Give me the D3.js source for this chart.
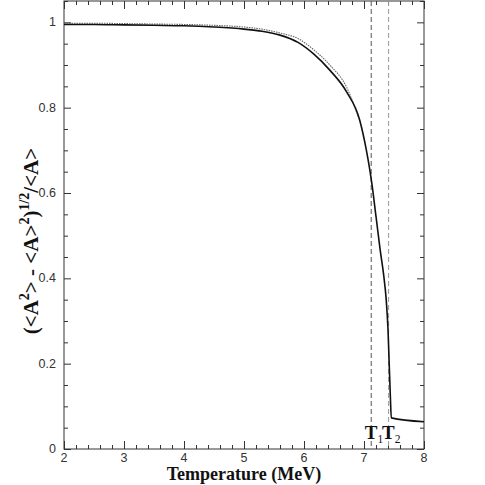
<!DOCTYPE html>
<html>
<head>
<meta charset="utf-8">
<script src="https://cdn.jsdelivr.net/npm/d3@7"></script>
<style>
  body { margin: 0; background: #fff; }
  .tickLabel { font-family: "Liberation Sans", Arial, sans-serif; font-size: 12.5px; fill: #333; }
  .axisLabel { font-family: "Liberation Serif", "Times New Roman", serif; font-weight: bold; font-size: 19px; fill: #111; }
</style>
</head>
<body>
<svg id="svgchart"></svg>
<script>
'use strict'

// solid curve
const solidT = [2, 2.5, 3, 3.5, 4, 4.5, 5, 5.3, 5.6, 5.9, 6.16, 6.43, 6.71, 6.93, 7.04, 7.09, 7.13, 7.2, 7.27, 7.33, 7.37, 7.4, 7.42, 7.44, 7.455, 8]
const solidV = [0.995, 0.995, 0.994, 0.993, 0.992, 0.989, 0.984, 0.979, 0.970, 0.953, 0.926, 0.888, 0.837, 0.770, 0.700, 0.660, 0.623, 0.545, 0.466, 0.405, 0.35, 0.28, 0.20, 0.12, 0.073, 0.064]
// dotted curve
const dottedT = [2, 2.5, 3, 3.5, 4, 4.5, 5, 5.3, 5.6, 5.9, 6.16, 6.43, 6.71, 6.9]
const dottedV = [0.998, 0.998, 0.997, 0.996, 0.995, 0.993, 0.989, 0.984, 0.975, 0.962, 0.936, 0.900, 0.848, 0.78]
// transition temperatures
const markerNames = ["1", "2"]
const markerT = [7.12, 7.41]
// ticks
const xTicks = [2, 3, 4, 5, 6, 7, 8]
const yTicks = [0, 0.2, 0.4, 0.6, 0.8, 1]

const margins = {top: 1, right: 61, bottom: 36, left: 64}
const width = 485 - margins.left - margins.right
const height = 485 - margins.top - margins.bottom

const x = d3.scaleLinear().domain([2, 8]).range([0, width])
const y = d3.scaleLinear().domain([0, 1.05]).range([height, 0])

const svg = d3.select('#svgchart')
  .attr("width", 485)
  .attr("height", 485)
const g = svg.append("g")
  .attr("transform", "translate(" + margins.left + "," + margins.top + ")")

// inward ticks on all four sides
const xMinor = d3.range(2, 8.001, 0.2).filter(v => Math.abs(v - Math.round(v)) > 0.01)
const yMinor = d3.range(0, 1.051, 0.05).filter(v => Math.abs(v * 5 - Math.round(v * 5)) > 0.01)
const tickStyle = sel => sel.select(".domain").remove()

g.append("g").attr("transform", "translate(0," + height + ")")
  .call(d3.axisTop(x).tickValues(xTicks).tickSize(8).tickFormat(""))
  .call(tickStyle)
g.append("g").attr("transform", "translate(0," + height + ")")
  .call(d3.axisTop(x).tickValues(xMinor).tickSize(4).tickFormat(""))
  .call(tickStyle)
g.append("g")
  .call(d3.axisBottom(x).tickValues(xTicks).tickSize(8).tickFormat(""))
  .call(tickStyle)
g.append("g")
  .call(d3.axisBottom(x).tickValues(xMinor).tickSize(4).tickFormat(""))
  .call(tickStyle)
g.append("g")
  .call(d3.axisRight(y).tickValues(yTicks).tickSize(7).tickFormat(""))
  .call(tickStyle)
g.append("g")
  .call(d3.axisRight(y).tickValues(yMinor).tickSize(4).tickFormat(""))
  .call(tickStyle)
g.append("g").attr("transform", "translate(" + width + ",0)")
  .call(d3.axisLeft(y).tickValues(yTicks).tickSize(7).tickFormat(""))
  .call(tickStyle)
g.append("g").attr("transform", "translate(" + width + ",0)")
  .call(d3.axisLeft(y).tickValues(yMinor).tickSize(4).tickFormat(""))
  .call(tickStyle)
g.selectAll(".tick line").attr("stroke", "#333")

// tick labels
g.selectAll(".xLab").data(xTicks).enter().append("text")
  .attr("class", "tickLabel")
  .attr("x", d => x(d)).attr("y", height + 12.5)
  .attr("text-anchor", "middle")
  .text(d => d)
g.selectAll(".yLab").data(yTicks).enter().append("text")
  .attr("class", "tickLabel")
  .attr("x", -8).attr("y", d => y(d) + 4)
  .attr("text-anchor", "end")
  .text(d => d)

// frame
g.append("rect")
  .attr("width", width).attr("height", height)
  .attr("fill", "none").attr("stroke", "#333").attr("stroke-width", 1)

// dashed marker lines
g.selectAll(".marker").data(markerT).enter().append("line")
  .attr("x1", d => x(d)).attr("x2", d => x(d))
  .attr("y1", 0).attr("y2", height)
  .attr("stroke", (d, i) => i === 0 ? "#555" : "#999")
  .attr("stroke-width", 1)
  .attr("stroke-dasharray", "5,3")

// marker labels T1, T2
const markLab = g.selectAll(".markLab").data(markerT).enter().append("text")
  .attr("class", "axisLabel")
  .attr("x", d => x(d) - 6.5).attr("y", height - 10)
markLab.append("tspan").text("T")
markLab.append("tspan").attr("dy", 4).style("font-size", "11.5px").style("font-weight", "normal")
  .text((d, i) => markerNames[i])

// curves
const line = d3.line().x(d => x(d[0])).y(d => y(d[1])).curve(d3.curveMonotoneX)
g.append("path")
  .datum(dottedT.map((t, i) => [t, dottedV[i]]))
  .attr("d", line)
  .attr("fill", "none").attr("stroke", "#666").attr("stroke-width", 1.1)
  .attr("stroke-dasharray", "1.5,1")
g.append("path")
  .datum(solidT.map((t, i) => [t, solidV[i]]))
  .attr("d", line)
  .attr("fill", "none").attr("stroke", "#111").attr("stroke-width", 1.6)

// axis titles
g.append("text")
  .attr("class", "axisLabel")
  .style("font-size", "18px")
  .attr("x", width / 2).attr("y", height + 31)
  .attr("text-anchor", "middle")
  .text("Temperature  (MeV)")

const yTitle = g.append("text")
  .attr("class", "axisLabel")
  .style("font-size", "21px")
  .attr("transform", "translate(-26," + (241 - margins.top) + ") rotate(-90)")
  .attr("text-anchor", "middle")
yTitle.append("tspan").text("(<A")
yTitle.append("tspan").attr("dy", -9).style("font-size", "14px").text("2")
yTitle.append("tspan").attr("dy", 9).text("> - <A>")
yTitle.append("tspan").attr("dy", -9).style("font-size", "14px").text("2")
yTitle.append("tspan").attr("dy", 9).text(")")
yTitle.append("tspan").attr("dy", -9).style("font-size", "14px").text("1/2")
yTitle.append("tspan").attr("dy", 9).text("/<A>")
</script>
</body>
</html>
